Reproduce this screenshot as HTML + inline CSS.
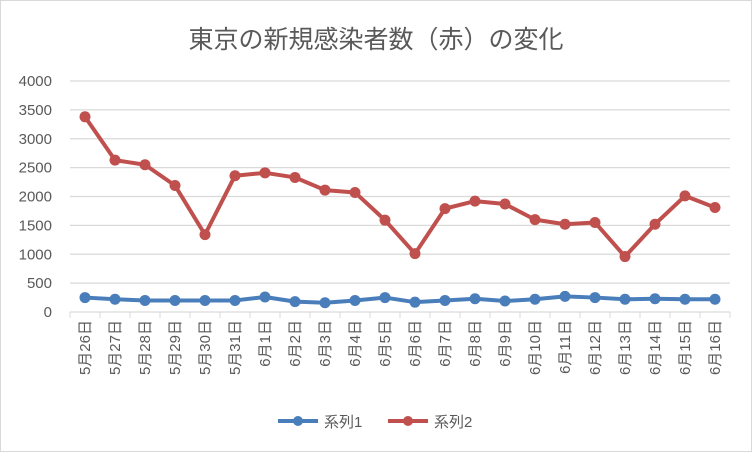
<!DOCTYPE html>
<html><head><meta charset="utf-8"><style>
body{margin:0;background:#fff;}
svg{display:block;font-family:"Liberation Sans","Noto Sans CJK JP",sans-serif;}
</style></head><body>
<svg id="c" width="752" height="452">
<rect x="0.5" y="0.5" width="751" height="451" fill="#fff" stroke="#d9d9d9"/>
<text x="376" y="48" text-anchor="middle" font-size="25" fill="#595959">東京の新規感染者数（赤）の変化</text>
<g id="grid"></g><g id="marks"></g>
<g>
<line x1="278" y1="421" x2="318" y2="421" stroke="#4a7ebb" stroke-width="4"/>
<circle cx="298" cy="421" r="5" fill="#4a7ebb"/>
<text x="324" y="427" font-size="15" fill="#595959">系列1</text>
<line x1="388" y1="421" x2="428" y2="421" stroke="#c0504d" stroke-width="4"/>
<circle cx="408" cy="421" r="5" fill="#c0504d"/>
<text x="434" y="427" font-size="15" fill="#595959">系列2</text>
</g>
</svg>
<script>
const categories=["5月26日","5月27日","5月28日","5月29日","5月30日","5月31日","6月1日","6月2日","6月3日","6月4日","6月5日","6月6日","6月7日","6月8日","6月9日","6月10日","6月11日","6月12日","6月13日","6月14日","6月15日","6月16日"];
const series1=[250,220,200,200,200,200,260,180,160,200,250,170,200,230,190,220,270,250,220,230,220,220];
const series2=[3380,2630,2550,2190,1340,2360,2410,2330,2110,2070,1590,1010,1790,1920,1870,1600,1520,1550,960,1520,2010,1810];
const yTicks=[0,500,1000,1500,2000,2500,3000,3500,4000];
const NS="http://www.w3.org/2000/svg";
const x0=70,x1=730,y0=312,y1=81,ymax=4000;
const bw=(x1-x0)/categories.length;
const X=i=>x0+bw*(i+0.5);
const Y=v=>y0-(v/ymax)*(y0-y1);
const grid=document.getElementById('grid'),marks=document.getElementById('marks');
function mk(tag,a,p){const e=document.createElementNS(NS,tag);for(const k in a)e.setAttribute(k,a[k]);p.appendChild(e);return e;}
yTicks.forEach(t=>{
 const l=mk('line',{x1:x0,x2:x1,y1:Y(t),y2:Y(t),stroke:'#d9d9d9','stroke-width':1.3},grid);
 
 
 const tx=mk('text',{x:52,y:Y(t)+5,'text-anchor':'end','font-size':15,fill:'#595959'},grid);
 tx.textContent=t;
 
 
});
for(let i=0;i<=categories.length;i++){
 const l=mk('line',{x1:x0+bw*i,x2:x0+bw*i,y1:y0,y2:y0+6,stroke:'#d9d9d9'},grid);
 
 
}
categories.forEach((c,i)=>{
 const tx=mk('text',{transform:`translate(${X(i)+5},320) rotate(-90)`,'text-anchor':'end','font-size':15,fill:'#595959'},grid);
 tx.textContent=c;
 
 
});
[[series1,'#4a7ebb','series1'],[series2,'#c0504d','series2']].forEach(([s,col,n])=>{
 const p=mk('polyline',{points:s.map((v,i)=>X(i)+','+Y(v)).join(' '),fill:'none',stroke:col,'stroke-width':4,'stroke-linejoin':'round'},marks);
 
 
 s.forEach((v,i)=>{
  const c=mk('circle',{cx:X(i),cy:Y(v),r:5.5,fill:col},marks);
  
  
 });
});
</script>
</body></html>
